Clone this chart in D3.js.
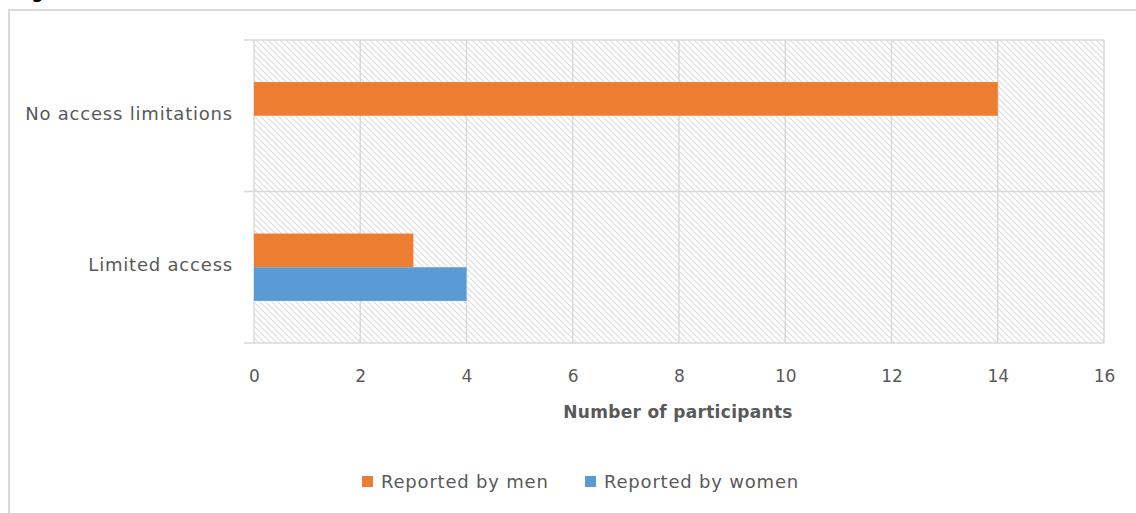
<!DOCTYPE html>
<html>
<head>
<meta charset="utf-8">
<script src="https://cdn.jsdelivr.net/npm/d3@7"></script>
<style>
  body { margin: 0; background: #fff; }
  svg { display: block; font-family: "DejaVu Sans", sans-serif; }
</style>
</head>
<body>
<div id="chart"></div>
<script>
const categories = ['No access limitations', 'Limited access'];
const seriesNames = ['Reported by men', 'Reported by women'];
const menValues = [14, 3];
const womenValues = [0, 4];
const xTicks = [0, 2, 4, 6, 8, 10, 12, 14, 16];
const colors = ['#ed7d31', '#5b9bd5'];

const width = 1136, height = 513;
const margin = { top: 40, right: 32, bottom: 170, left: 254 };

const svg = d3.select('#chart').append('svg').attr('width', width).attr('height', height);

const defs = svg.append('defs');
const pat = defs.append('pattern').attr('id', 'hatch').attr('patternUnits', 'userSpaceOnUse')
  .attr('width', 6).attr('height', 6);
pat.append('path').attr('d', 'M-1,-1 L7,7 M-7,-1 L1,7 M5,-1 L13,7').attr('stroke', '#dcdcdc').attr('stroke-width', 1.1);

// chart frame (cut at right/bottom)
svg.append('rect').attr('x', 9).attr('y', 10).attr('width', width).attr('height', height)
  .attr('fill', 'none').attr('stroke', '#d9d9d9').attr('stroke-width', 2);

// clipped figure caption, only descenders show
svg.append('text').attr('x', 14).attr('y', -2).attr('font-weight', 'bold').attr('font-size', 17)
  .attr('fill', '#000').text('Figure');

const x = d3.scaleLinear().domain([0, 16]).range([margin.left, width - margin.right]);
const y = d3.scaleBand().domain(categories).range([margin.top, height - margin.bottom]);
const inner = d3.scaleBand().domain(seriesNames).range([0, y.bandwidth()]).paddingOuter(1.25);

// hatched plot area
svg.append('rect').attr('x', x(0)).attr('y', margin.top)
  .attr('width', x(16) - x(0)).attr('height', height - margin.bottom - margin.top)
  .attr('fill', 'url(#hatch)');

// vertical gridlines
svg.append('g').selectAll('line').data(xTicks).enter().append('line')
  .attr('x1', d => x(d)).attr('x2', d => x(d))
  .attr('y1', margin.top).attr('y2', height - margin.bottom)
  .attr('stroke', '#d9d9d9').attr('stroke-width', 1.5);

// category boundaries
const bounds = [margin.top, y(categories[1]), height - margin.bottom];
svg.append('g').selectAll('line').data(bounds).enter().append('line')
  .attr('x1', x(0) - 10).attr('x2', x(16))
  .attr('y1', d => d).attr('y2', d => d)
  .attr('stroke', '#d9d9d9').attr('stroke-width', 1.5);

// bars
const rows = categories.map((c, i) => ({ cat: c, vals: [menValues[i], womenValues[i]] }));
const g = svg.append('g').selectAll('g').data(rows).enter().append('g')
  .attr('transform', d => `translate(0,${y(d.cat)})`);
g.selectAll('rect').data(d => d.vals.map((v, j) => ({ v, s: seriesNames[j], j }))).enter()
  .append('rect')
  .attr('x', x(0)).attr('y', d => inner(d.s))
  .attr('width', d => x(d.v) - x(0)).attr('height', inner.bandwidth())
  .attr('fill', d => colors[d.j]);

// x axis labels
const xAxis = d3.axisBottom(x).tickValues(xTicks).tickSize(0).tickPadding(27);
const xa = svg.append('g').attr('transform', `translate(0,${height - margin.bottom})`).call(xAxis);
xa.select('.domain').remove();
xa.selectAll('text').attr('font-size', 17).attr('fill', '#595959').attr('font-family', '"DejaVu Sans", sans-serif');

// y axis labels
const yAxis = d3.axisLeft(y).tickSize(0).tickPadding(21);
const ya = svg.append('g').attr('transform', `translate(${x(0)},-2)`).call(yAxis);
ya.select('.domain').remove();
ya.selectAll('text').attr('font-size', 18).attr('fill', '#595959').attr('font-family', '"DejaVu Sans", sans-serif')
  .attr('letter-spacing', 0.8);

// axis title
svg.append('text').attr('x', x(8) - 1).attr('y', 418).attr('text-anchor', 'middle')
  .attr('font-size', 17).attr('font-weight', 'bold').attr('fill', '#595959')
  .attr('letter-spacing', 0.3)
  .text('Number of participants');

// legend
const legendX = [362, 585];
const lg = svg.append('g').selectAll('g').data(seriesNames).enter().append('g')
  .attr('transform', (d, i) => `translate(${legendX[i]},476)`);
lg.append('rect').attr('width', 11).attr('height', 11).attr('fill', (d, i) => colors[i]);
lg.append('text').attr('x', 19).attr('y', 12).attr('font-size', 18).attr('fill', '#595959')
  .attr('letter-spacing', 0.8).text(d => d);
</script>
</body>
</html>
